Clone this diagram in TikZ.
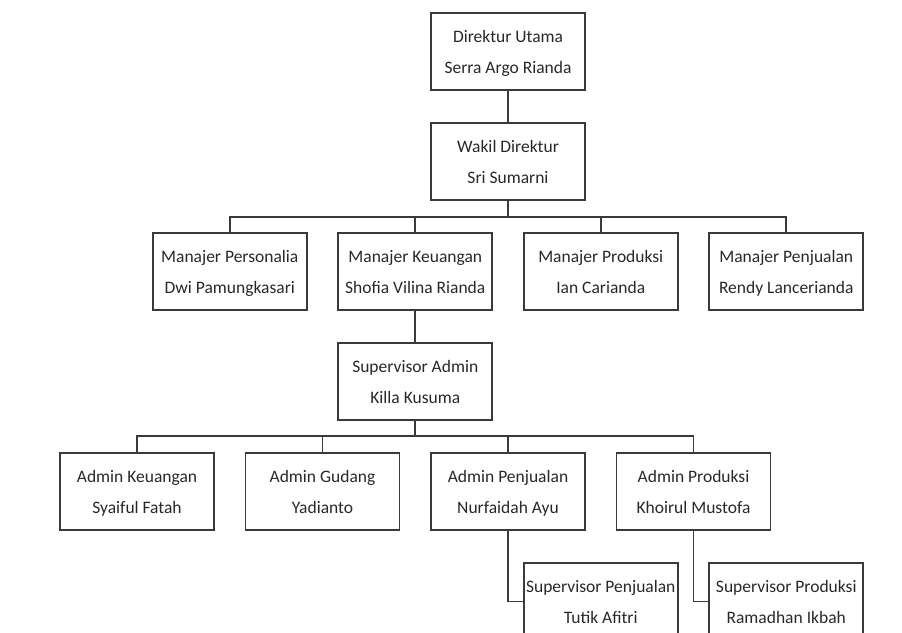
\documentclass[tikz,border=0pt]{standalone}
\usepackage{fontspec}
\setmainfont{Carlito}
\usepackage{tikz}
\usetikzlibrary{calc,positioning}
\definecolor{garis}{HTML}{3A3A3A}
\definecolor{tulisan}{HTML}{282828}

\begin{document}
\begin{tikzpicture}[node distance=31.2pt and 29.7pt,
    jabatan/.style={draw=garis, line width=1.8pt, minimum width=154pt, minimum height=77pt,
      inner sep=1pt, align=center, text=tulisan, text height=45pt, text depth=2pt,
      font=\fontsize{17.5}{31}\selectfont},
    hubung/.style={draw=garis, line width=1.8pt}]
  \useasboundingbox (0,0) rectangle (902pt,-632pt);
  \clip (0,0) rectangle (902pt,-632pt);

  \node[jabatan] at (508pt,-51.5pt)             (direktur) {Direktur Utama\\Serra Argo Rianda};
  \node[jabatan, below=of direktur]             (wakil)    {Wakil Direktur\\Sri Sumarni};

  \node[jabatan, below=of wakil, xshift=-92.75pt] (mkeu)   {Manajer Keuangan\\Shofia Vilina Rianda};
  \node[jabatan, left=of mkeu]                  (mpers)    {Manajer Personalia\\Dwi Pamungkasari};
  \node[jabatan, right=of mkeu]                 (mprod)    {Manajer Produksi\\Ian Carianda};
  \node[jabatan, right=of mprod]                (mpenj)    {Manajer Penjualan\\Rendy Lancerianda};

  \node[jabatan, below=of mkeu]                 (spvadmin) {Supervisor Admin\\Killa Kusuma};

  \node[jabatan, below=of spvadmin, xshift=92.75pt] (apenj) {Admin Penjualan\\Nurfaidah Ayu};
  \node[jabatan, left=of apenj]                 (agud)     {Admin Gudang\\Yadianto};
  \node[jabatan, left=of agud]                  (akeu)     {Admin Keuangan\\Syaiful Fatah};
  \node[jabatan, right=of apenj]                (aprod)    {Admin Produksi\\Khoirul Mustofa};

  \node[jabatan, below=of apenj, xshift=92.75pt] (spvpenj) {Supervisor Penjualan\\Tutik Afitri};
  \node[jabatan, below=of aprod, xshift=92.75pt] (spvprod) {Supervisor Produksi\\Ramadhan Ikbah};

  % garis penghubung
  \coordinate (bus1) at ($(wakil.south)+(0,-16pt)$);
  \coordinate (bus2) at ($(spvadmin.south)+(0,-15pt)$);

  \draw[hubung] (direktur) -- (wakil);
  \draw[hubung] (wakil.south) -- (bus1);
  \draw[hubung] (mpers.north) |- (bus1) -| (mpenj.north);
  \draw[hubung] (mkeu.north) -- (mkeu.north |- bus1);
  \draw[hubung] (mprod.north) -- (mprod.north |- bus1);

  \draw[hubung] (mkeu) -- (spvadmin);
  \draw[hubung] (spvadmin.south) -- (bus2);
  \draw[hubung] (akeu.north) |- (bus2) -| (aprod.north);
  \draw[hubung] (agud.north) -- (agud.north |- bus2);
  \draw[hubung] (apenj.north) -- (apenj.north |- bus2);

  \draw[hubung] (apenj.south) |- (spvpenj.west);
  \draw[hubung] (aprod.south) |- (spvprod.west);
\end{tikzpicture}
\end{document}
